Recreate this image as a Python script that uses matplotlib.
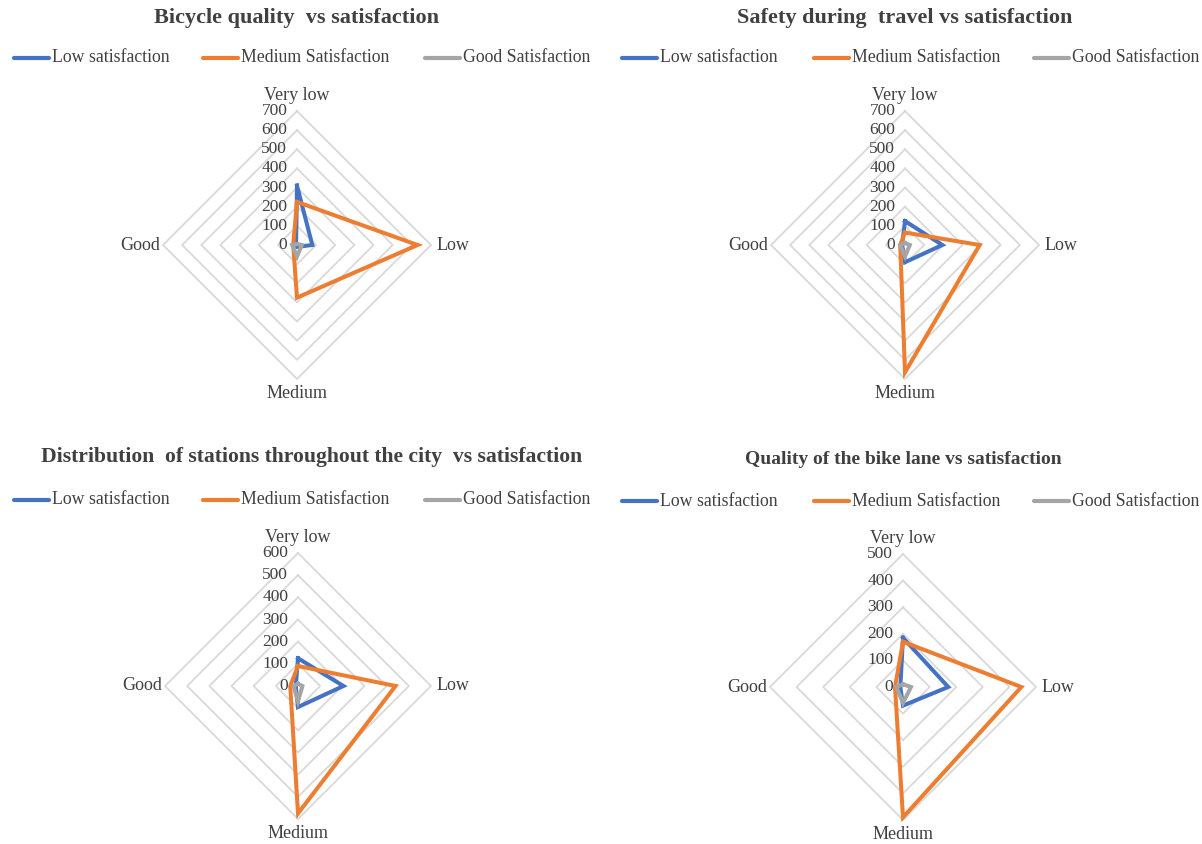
import numpy as np
import matplotlib
matplotlib.use("Agg")
import matplotlib.pyplot as plt
from matplotlib.lines import Line2D

plt.rcParams["font.family"] = ["Liberation Serif", "DejaVu Serif"]

categories = ["Very low", "Low", "Medium", "Good"]
series_names = ["Low satisfaction", "Medium Satisfaction", "Good Satisfaction"]
series_colors = ["#4472C4", "#ED7D31", "#A5A5A5"]

titles = [
    "Bicycle quality  vs satisfaction",
    "Safety during  travel vs satisfaction",
    "Distribution  of stations throughout the city  vs satisfaction",
    "Quality of the bike lane vs satisfaction",
]

# values per chart: [low satisfaction, medium satisfaction, good satisfaction]
bicycle_low = [310, 80, 10, 5]
bicycle_medium = [225, 630, 275, 20]
bicycle_good = [5, 25, 60, 25]

safety_low = [125, 195, 90, 15]
safety_medium = [65, 390, 665, 25]
safety_good = [10, 25, 60, 25]

stations_low = [125, 205, 95, 10]
stations_medium = [90, 440, 575, 35]
stations_good = [10, 20, 70, 20]

lane_low = [185, 170, 70, 10]
lane_medium = [170, 445, 490, 30]
lane_good = [10, 30, 60, 25]

axis_max = [700, 700, 600, 500]

chart_series = [
    [bicycle_low, bicycle_medium, bicycle_good],
    [safety_low, safety_medium, safety_good],
    [stations_low, stations_medium, stations_good],
    [lane_low, lane_medium, lane_good],
]

W, H = 1202, 844
fig = plt.figure(figsize=(W / 100, H / 100), dpi=100)
fig.patch.set_facecolor("white")

# layout in pixels: radar centre, radius, title y/size, legend y, legend x positions
panels = [
    dict(cx=297, cy=245, r=134, ty=18, tsize=16, ly=58, lx=[12, 201, 423], title_x=297),
    dict(cx=905, cy=245, r=134, ty=18, tsize=16, ly=58, lx=[620, 812, 1032], title_x=905),
    dict(cx=298, cy=686, r=133, ty=457, tsize=15.6, ly=500, lx=[12, 201, 423], title_x=312),
    dict(cx=903, cy=687, r=133, ty=460, tsize=14, ly=501, lx=[620, 812, 1032], title_x=903),
]

theta = np.linspace(0, 2 * np.pi, len(categories), endpoint=False)
theta_closed = np.append(theta, theta[0])
text_color = "#404040"

for p, title, series, rmax in zip(panels, titles, chart_series, axis_max):
    r = p["r"]
    ax = fig.add_axes([(p["cx"] - r) / W, 1 - (p["cy"] + r) / H, 2 * r / W, 2 * r / H],
                      projection="polar")
    ax.set_theta_zero_location("N")
    ax.set_theta_direction(-1)
    ax.set_ylim(0, rmax)
    ax.grid(False)
    ax.spines["polar"].set_visible(False)
    ax.set_xticks([])
    ax.set_yticks([])
    ax.patch.set_alpha(0)

    # diamond gridlines
    for ring in range(100, rmax + 1, 100):
        ax.plot(theta_closed, [ring] * len(theta_closed), color="#D9D9D9", lw=1.3,
                zorder=1, clip_on=False)

    # radial value labels
    for val in range(0, rmax + 1, 100):
        ax.annotate(str(val), xy=(0, val), xytext=(-7, 0), textcoords="offset points",
                    ha="right", va="center", fontsize=12.5, color=text_color,
                    annotation_clip=False)

    # category labels
    offsets = [(0, 5, "center", "bottom"), (4, 0, "left", "center"),
               (0, -4, "center", "top"), (-2, 0, "right", "center")]
    for t, name, (dx, dy, ha, va) in zip(theta, categories, offsets):
        ax.annotate(name, xy=(t, rmax), xytext=(dx, dy), textcoords="offset points",
                    ha=ha, va=va, fontsize=13, color=text_color, annotation_clip=False)

    # data series
    for vals, color in zip(series, series_colors):
        ax.plot(theta_closed, vals + vals[:1], color=color, lw=2.9, zorder=3,
                solid_joinstyle="miter", clip_on=False)

    fig.text(p["title_x"] / W, 1 - p["ty"] / H, title, ha="center", va="center",
             fontsize=p["tsize"], fontweight="bold", color=text_color)

    # legend row
    for x0, name, color in zip(p["lx"], series_names, series_colors):
        yy = 1 - p["ly"] / H
        fig.add_artist(Line2D([(x0 + 2) / W, (x0 + 37) / W], [yy, yy], color=color, lw=3,
                              transform=fig.transFigure, solid_capstyle="round"))
        fig.text((x0 + 40) / W, yy, name, ha="left", va="center", fontsize=12.8,
                 color=text_color)

fig.savefig("out.png", dpi=100, facecolor="white")
